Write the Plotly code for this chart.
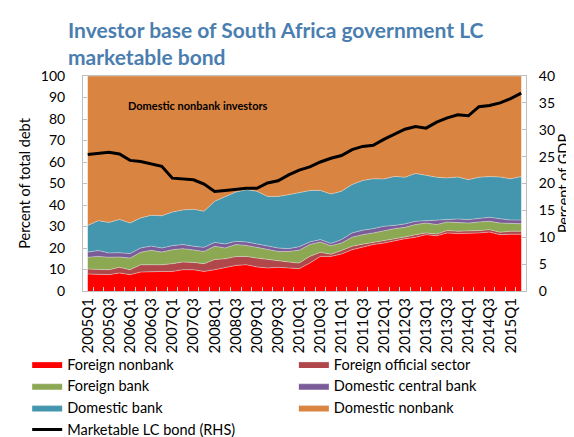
import plotly.graph_objects as go

# ---------------- data ----------------
quarters = [f"{y}Q{q}" for y in range(2005, 2016) for q in range(1, 5)][:42]

foreign_nonbank = [7.9, 7.6, 7.6, 8.4, 7.6, 8.8, 9.1, 9.1, 9.1, 9.9, 9.9, 9.1, 9.9, 10.8,
                   11.9, 12.2, 11.2, 10.7, 11.0, 10.7, 10.4, 13.0, 16.1, 16.1, 17.2, 19.2,
                   20.3, 21.6, 22.3, 23.4, 24.3, 25.0, 26.2, 25.7, 27.0, 26.7, 26.7, 27.0,
                   27.4, 26.2, 26.4, 26.4]
foreign_official = [2.3, 2.3, 2.3, 2.6, 2.3, 3.4, 3.1, 3.1, 3.6, 3.6, 3.4, 3.6, 4.7, 4.2,
                    4.1, 3.9, 4.1, 3.9, 3.1, 2.8, 2.6, 3.1, 1.9, 1.0, 1.6, 1.6, 1.5, 1.0,
                    1.1, 0.9, 0.8, 1.2, 0.8, 0.8, 1.1, 1.1, 1.1, 1.1, 1.1, 1.1, 1.4, 1.4]
foreign_bank = [5.5, 6.2, 5.8, 4.8, 5.4, 5.8, 6.7, 5.9, 6.5, 6.2, 5.8, 5.7, 6.2, 5.0,
                5.6, 5.1, 5.0, 4.6, 4.3, 4.9, 6.0, 5.5, 4.8, 3.9, 3.5, 4.2, 4.4, 4.4,
                4.7, 4.7, 4.5, 4.7, 4.6, 4.4, 4.0, 4.0, 3.8, 4.0, 3.9, 4.3, 3.5, 3.5]
domestic_central_bank = [2.4, 2.7, 2.0, 2.0, 2.1, 2.0, 2.0, 1.9, 1.9, 1.9, 1.7, 1.9, 1.8, 1.9,
                         1.5, 1.6, 1.6, 1.6, 1.6, 1.3, 1.6, 1.2, 1.1, 1.1, 1.6, 2.0, 2.1, 2.0,
                         2.0, 1.5, 1.6, 1.5, 1.1, 2.1, 1.1, 1.7, 1.6, 1.5, 1.9, 2.0, 1.7, 1.7]
domestic_bank = [12.4, 13.9, 14.2, 15.5, 14.2, 14.0, 14.3, 15.0, 15.6, 16.1, 17.2, 16.8, 19.1,
                 22.1, 22.9, 24.3, 24.5, 23.2, 24.0, 25.1, 25.0, 23.9, 22.9, 23.0, 22.5, 22.5,
                 23.1, 23.2, 22.0, 22.8, 21.7, 22.3, 21.1, 19.9, 19.4, 19.5, 18.6, 19.3, 18.9,
                 19.4, 19.2, 20.2]
domestic_nonbank = [69.5, 67.3, 68.1, 66.7, 68.4, 66.0, 64.8, 65.0, 63.3, 62.3, 62.0, 62.9,
                    58.3, 56.0, 54.0, 52.9, 53.6, 56.0, 56.0, 55.2, 54.4, 53.3, 53.2, 54.9,
                    53.6, 50.5, 48.6, 47.8, 47.9, 46.7, 47.1, 45.3, 46.2, 47.1, 47.4, 47.0,
                    48.2, 47.1, 46.8, 47.0, 47.8, 46.8]
lc_bond_gdp = [25.4, 25.6, 25.8, 25.5, 24.3, 24.1, 23.7, 23.2, 21.0, 20.9, 20.7, 19.9, 18.5,
               18.7, 18.9, 19.1, 19.1, 20.1, 20.5, 21.6, 22.5, 23.1, 24.0, 24.7, 25.2, 26.3,
               26.9, 27.1, 28.2, 29.1, 30.1, 30.6, 30.3, 31.4, 32.2, 32.8, 32.6, 34.3, 34.5,
               35.0, 35.8, 36.8]

FONT = "Lato"
x = list(range(len(quarters)))

series = [
    ("Foreign nonbank", foreign_nonbank, "#FF0000", "legend"),
    ("Foreign official sector", foreign_official, "#B0474A", "legend2"),
    ("Foreign bank", foreign_bank, "#8DA852", "legend"),
    ("Domestic central bank", domestic_central_bank, "#7A5C98", "legend2"),
    ("Domestic bank", domestic_bank, "#4396AE", "legend"),
    ("Domestic nonbank", domestic_nonbank, "#DA8441", "legend2"),
]

fig = go.Figure()
for name, vals, col, lg in series:
    fig.add_trace(go.Scatter(
        x=x, y=vals, name=name, mode="lines", stackgroup="one",
        line=dict(width=0.8, color="rgba(235,235,235,0.55)"),
        fillcolor=col, legend=lg,
    ))

fig.add_trace(go.Scatter(
    x=x, y=lc_bond_gdp, name="Marketable LC bond (RHS)", mode="lines",
    line=dict(color="black", width=3), yaxis="y2", legend="legend",
))

fig.add_annotation(x=10.4, y=86.5, xref="x", yref="y", text="<b>Domestic nonbank investors</b>",
                   showarrow=False, font=dict(family=FONT, size=11, color="black"))

# chart title (two lines)
fig.add_annotation(x=(58 - 75) / 443, y=(283 - 7) / 215, xref="paper", yref="paper",
                   xanchor="left", yanchor="top", align="left", showarrow=False,
                   text="<b>Investor base of South Africa government LC<br>marketable bond</b>",
                   font=dict(family=FONT, size=21, color="#4A7EB0"))

axis_col = "#BFBFBF"
fig.update_layout(
    width=574, height=437,
    margin=dict(l=75, r=56, t=68, b=154, autoexpand=False),
    paper_bgcolor="white", plot_bgcolor="white",
    font=dict(family=FONT, size=14, color="black"),
    xaxis=dict(range=[-0.45, 41.45], tickmode="array", tickvals=x[::2], ticktext=quarters[::2],
               tickangle=-90, ticks="", showgrid=False, zeroline=False,
               showline=True, linecolor=axis_col, linewidth=1, mirror=True,
               tickfont=dict(size=15),
               minor=dict(tickmode="linear", tick0=-0.5, dtick=1, ticks="inside",
                          ticklen=4, tickcolor="#D9D9D9", showgrid=False)),
    yaxis=dict(range=[0, 100], dtick=10, showgrid=False, zeroline=False,
               showline=True, linecolor=axis_col, linewidth=1,
               ticks="inside", ticklen=4, tickcolor=axis_col,
               ticklabelstandoff=14,
               title=dict(text="Percent of total debt", font=dict(size=14.5), standoff=6)),
    yaxis2=dict(range=[0, 40], dtick=5, overlaying="y", side="right", showgrid=False,
                zeroline=False, showline=True, linecolor=axis_col, linewidth=1,
                ticks="inside", ticklen=4, tickcolor=axis_col, ticklabelstandoff=9,
                title=dict(text="Percent of GDP", font=dict(size=14.5), standoff=2)),
    legend=dict(x=-0.126, y=-0.265, xanchor="left", yanchor="top", orientation="v",
                traceorder="normal", bgcolor="rgba(0,0,0,0)", font=dict(size=14.5),
                tracegroupgap=0),
    legend2=dict(x=0.476, y=-0.265, xanchor="left", yanchor="top", orientation="v",
                 traceorder="normal", bgcolor="rgba(0,0,0,0)", font=dict(size=14.5),
                 tracegroupgap=0),
    showlegend=True,
)

fig.write_html("out.html")
